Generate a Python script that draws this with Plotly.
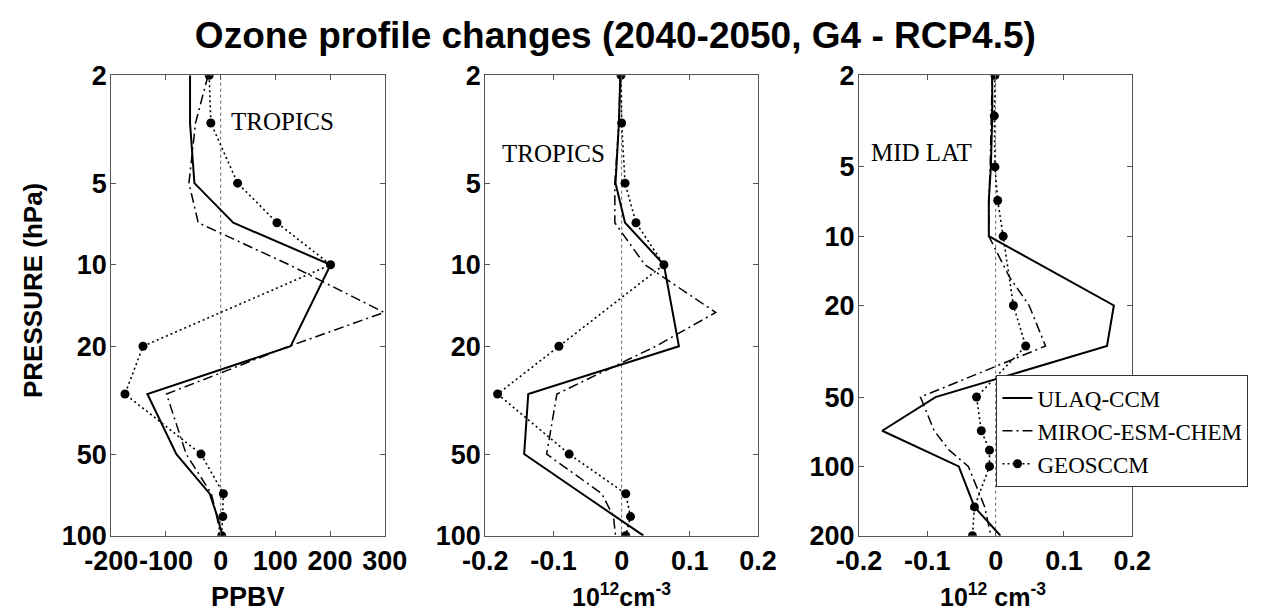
import math
import plotly.graph_objects as go

# ---------------- data ----------------
# pressure levels (hPa)
P_GEOS_TROP = [2, 3, 5, 7, 10, 20, 30, 50, 70, 85, 100]
P_MODEL_TROP = [2, 3, 5, 7, 10, 15, 20, 30, 50, 70, 85, 100]
P_GEOS_MID = [2, 3, 5, 7, 10, 20, 30, 50, 70, 85, 100, 150, 200]
P_MODEL_MID = [2, 3, 5, 7, 10, 15, 20, 30, 50, 70, 85, 100, 150, 200]

# Panel 1: tropics, PPBV
ULAQ_TROP_PPBV = [-56, -56, -48, 23, 201, 158, 128, -134, -81, -20, -6, 3]
MIROC_TROP_PPBV = [-23, -46, -58, -41, 125, 299, 125, -99, -63, -17, -7, 0]
GEOS_TROP_PPBV = [-21, -18, 31, 103, 201, -142, -175, -36, 5, 4, 2]

# Panel 2: tropics, 10^12 cm^-3
ULAQ_TROP_DENS = [-0.002, -0.004, -0.009, 0.005, 0.062, 0.075, 0.084, -0.137, -0.143, -0.058, -0.010, 0.032]
MIROC_TROP_DENS = [-0.002, -0.004, -0.010, -0.010, 0.034, 0.138, 0.050, -0.095, -0.110, -0.029, -0.012, -0.009]
GEOS_TROP_DENS = [-0.001, 0.000, 0.005, 0.021, 0.062, -0.092, -0.182, -0.077, 0.006, 0.013, 0.006]

# Panel 3: mid latitudes, 10^12 cm^-3
ULAQ_MID_DENS = [-0.005, -0.005, -0.007, -0.010, -0.010, 0.098, 0.173, 0.163, -0.088, -0.166, -0.105, -0.054, -0.031, 0.007]
MIROC_MID_DENS = [-0.005, -0.006, -0.008, -0.010, -0.010, 0.020, 0.049, 0.073, -0.110, -0.090, -0.068, -0.040, -0.016, -0.007]
GEOS_MID_DENS = [-0.001, -0.002, -0.001, 0.003, 0.011, 0.026, 0.044, -0.028, -0.021, -0.009, -0.009, -0.031, -0.034]

MODEL_NAMES = ["ULAQ-CCM", "MIROC-ESM-CHEM", "GEOSCCM"]
PANEL_LABELS = ["TROPICS", "TROPICS", "MID LAT"]
X_TITLES = ["PPBV", "10<sup>12</sup>cm<sup>-3</sup>", "10<sup>12</sup> cm<sup>-3</sup>"]
X_TICKS = [[-200, -100, 0, 100, 200, 300], [-0.2, -0.1, 0, 0.1, 0.2], [-0.2, -0.1, 0, 0.1, 0.2]]
X_TICKTEXT = [["-200", "-100", "0", "100", "200", "300"],
              ["-0.2", "-0.1", "0", "0.1", "0.2"],
              ["-0.2", "-0.1", "0", "0.1", "0.2"]]
X_RANGES = [[-200, 300], [-0.2, 0.2], [-0.2, 0.2]]
Y_TICKS = [[2, 5, 10, 20, 50, 100], [2, 5, 10, 20, 50, 100], [2, 5, 10, 20, 50, 100, 200]]
Y_LIMITS = [[2, 100], [2, 100], [2, 200]]
TITLE = "Ozone profile changes (2040-2050, G4 - RCP4.5)"
Y_TITLE = "PRESSURE (hPa)"

# ---------------- layout geometry ----------------
W, H = 1276, 613
X_DOMAINS_PX = [(103.3, 376.7), (477.3, 750.0), (851.0, 1124.3)]
Y_DOMAIN_PX = (67.3, 527.7)  # top, bottom (pixels from top)

SANS = "Liberation Sans, Arial, Helvetica, sans-serif"
SERIF = "Liberation Serif, Times New Roman, serif"
FRAME = "#555555"


def fx(px):
    return px / W


def fy(py):
    return 1 - py / H


panels = [
    (P_MODEL_TROP, ULAQ_TROP_PPBV, P_MODEL_TROP, MIROC_TROP_PPBV, P_GEOS_TROP, GEOS_TROP_PPBV),
    (P_MODEL_TROP, ULAQ_TROP_DENS, P_MODEL_TROP, MIROC_TROP_DENS, P_GEOS_TROP, GEOS_TROP_DENS),
    (P_MODEL_MID, ULAQ_MID_DENS, P_MODEL_MID, MIROC_MID_DENS, P_GEOS_MID, GEOS_MID_DENS),
]

fig = go.Figure()

for i, (pu, vu, pm, vm, pg, vg) in enumerate(panels):
    xa = "x" if i == 0 else f"x{i+1}"
    ya = "y" if i == 0 else f"y{i+1}"
    show = i == 0
    fig.add_trace(go.Scatter(
        x=vu, y=pu, xaxis=xa, yaxis=ya, mode="lines", name=MODEL_NAMES[0],
        legendgroup="ulaq", showlegend=show,
        line=dict(color="black", width=2, dash="solid")))
    fig.add_trace(go.Scatter(
        x=vm, y=pm, xaxis=xa, yaxis=ya, mode="lines", name=MODEL_NAMES[1],
        legendgroup="miroc", showlegend=show,
        line=dict(color="black", width=1.5, dash="10px,4px,2px,4px")))
    fig.add_trace(go.Scatter(
        x=vg, y=pg, xaxis=xa, yaxis=ya, mode="lines+markers", name=MODEL_NAMES[2],
        legendgroup="geos", showlegend=show,
        line=dict(color="black", width=1.6, dash="2px,3px"),
        marker=dict(color="black", size=9, symbol="circle")))

    axis_common = dict(
        showline=True, linecolor=FRAME, linewidth=1, mirror="ticks",
        ticks="inside", ticklen=5, tickcolor=FRAME, tickwidth=1,
        showgrid=False, zeroline=False, automargin=False,
        tickfont=dict(family=SANS, size=27, color="black", weight="bold"),
    )
    xkey = "xaxis" if i == 0 else f"xaxis{i+1}"
    ykey = "yaxis" if i == 0 else f"yaxis{i+1}"
    d0, d1 = X_DOMAINS_PX[i]
    fig.update_layout({
        xkey: dict(axis_common, domain=[fx(d0), fx(d1)], range=X_RANGES[i],
                   tickmode="array", tickvals=X_TICKS[i], ticktext=X_TICKTEXT[i],
                   tickangle=0, anchor=ya, ticklabelstandoff=1),
        ykey: dict(axis_common, domain=[fy(Y_DOMAIN_PX[1]), fy(Y_DOMAIN_PX[0])],
                   type="log",
                   range=[math.log10(Y_LIMITS[i][1]), math.log10(Y_LIMITS[i][0])],
                   tickmode="array", tickvals=Y_TICKS[i],
                   ticktext=[str(v) for v in Y_TICKS[i]],
                   tickangle=0, anchor=xa, ticklabelstandoff=-2),
    })
    # dotted zero line
    fig.add_shape(type="line", xref=xa, yref=f"{ya} domain", x0=0, x1=0, y0=0, y1=1,
                  line=dict(color="#666666", width=1, dash="dot"), layer="below")

annotations = []
LABEL_POS = [(274.2, 113.3), (545.0, 146.0), (913.0, 144.0)]
for i, (lx, ly) in enumerate(LABEL_POS):
    annotations.append(dict(text=PANEL_LABELS[i], xref="paper", yref="paper",
                            x=fx(lx), y=fy(ly), showarrow=False,
                            xanchor="center", yanchor="middle",
                            font=dict(family=SERIF, size=25, color="black")))
# x-axis titles
annotations.append(dict(text=X_TITLES[0], xref="paper", yref="paper",
                        x=fx(240.0), y=fy(589.0), showarrow=False,
                        xanchor="center", yanchor="middle",
                        font=dict(family=SANS, size=27, color="black", weight="bold")))
for i, tx in ((1, 613.7), (2, 985.0)):
    annotations.append(dict(text=X_TITLES[i], xref="paper", yref="paper",
                            x=fx(tx), y=fy(604.0), showarrow=False, borderpad=0,
                            xanchor="center", yanchor="bottom",
                            font=dict(family=SANS, size=25, color="black", weight="bold")))
annotations.append(dict(text=Y_TITLE, xref="paper", yref="paper",
                        x=fx(25), y=fy(283), showarrow=False, textangle=-90,
                        xanchor="center", yanchor="middle",
                        font=dict(family=SANS, size=26, color="black", weight="bold")))

fig.update_layout(
    width=W, height=H, autosize=False,
    margin=dict(l=0, r=0, t=0, b=0),
    paper_bgcolor="white", plot_bgcolor="white",
    title=dict(text=TITLE, x=0.476, y=fy(27), xanchor="center", yanchor="middle",
               automargin=False,
               font=dict(family=SANS, size=37, color="black", weight="bold")),
    annotations=annotations,
    legend=dict(x=fx(988.3), y=fy(367.3), xanchor="left", yanchor="top",
                bgcolor="white", bordercolor="#333333", borderwidth=1.2,
                font=dict(family=SERIF, size=23, color="black"),
                itemwidth=30, tracegroupgap=0),
    showlegend=True,
)

fig.write_html("out.html")
